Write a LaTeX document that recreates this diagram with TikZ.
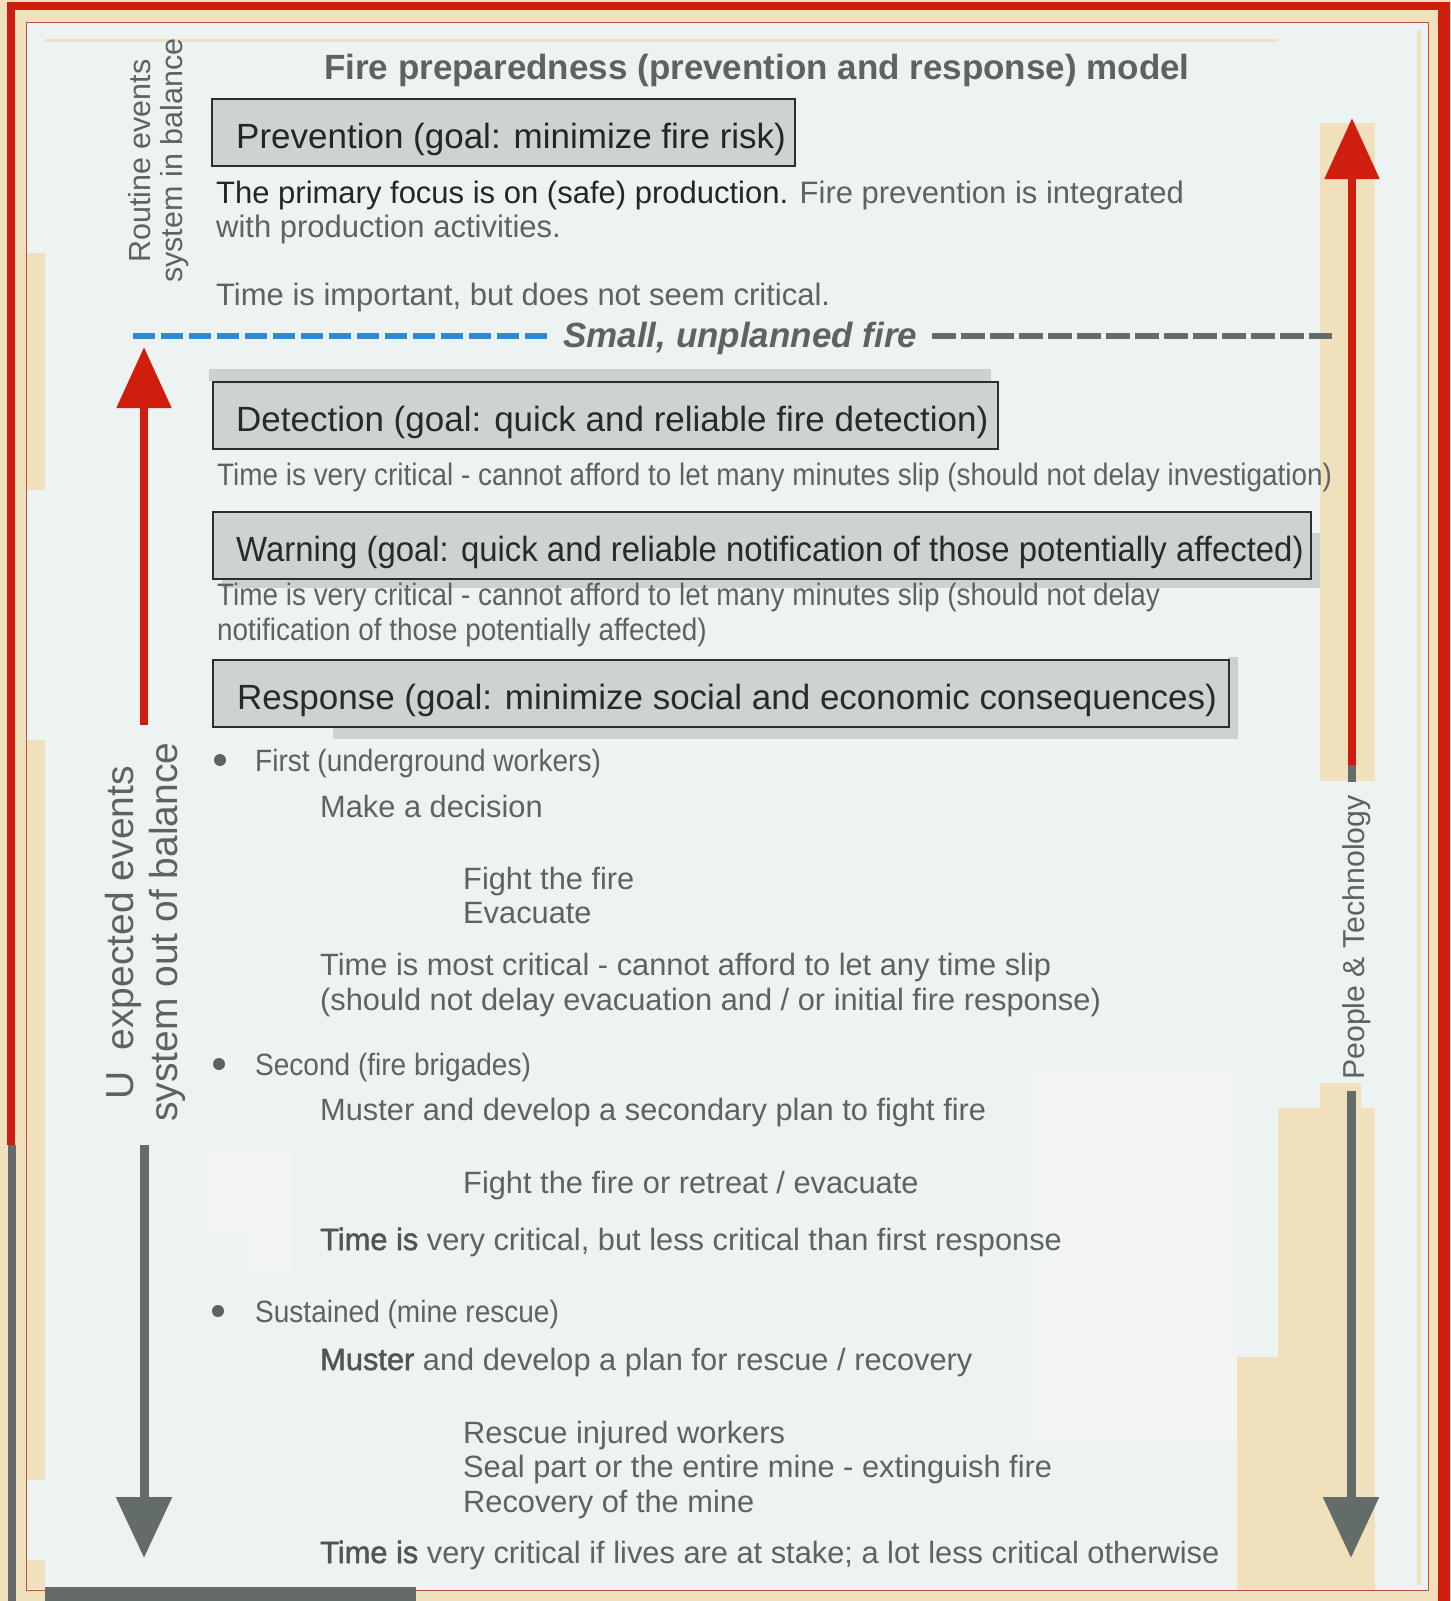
\documentclass[tikz,border=0pt]{standalone}
\usepackage{fontspec}
\setmainfont{Liberation Sans}
\newfontfamily\heavyfont[FakeBold=1.6]{Liberation Sans}
\newfontfamily\condfont[FakeStretch=0.91]{Liberation Sans}
\newfontfamily\subfont[FakeStretch=0.9]{Liberation Sans}
\newfontfamily\warnfont[FakeStretch=0.94]{Liberation Sans}
\usetikzlibrary{arrows.meta}
\definecolor{cream}{HTML}{F0E0BC}
\definecolor{arrred}{HTML}{CF1D0E}
\definecolor{thinred}{HTML}{B8533F}
\definecolor{innerbg}{HTML}{EDF2F3}
\definecolor{whitish}{HTML}{F2F4F4}
\definecolor{txtgray}{HTML}{5B6363}
\definecolor{txtheavy}{HTML}{4E5656}
\definecolor{txtdark}{HTML}{222626}
\definecolor{arrgray}{HTML}{636B6B}
\definecolor{boxfill}{HTML}{CDD3D3}
\definecolor{boxshadow}{HTML}{CBD2D2}
\definecolor{boxline}{HTML}{2C2E2E}
\definecolor{boxtext}{HTML}{262A2A}
\definecolor{dashblue}{HTML}{2E8BD3}
\begin{document}
\begin{tikzpicture}[x=1pt,y=-1pt,
  tx/.style={anchor=base west, inner sep=0pt, text=txtgray, font=\fontsize{30.8}{37}\selectfont},
  headtx/.style={anchor=base west, inner sep=0pt, text=txtgray, font=\condfont\fontsize{30.8}{37}\selectfont},
  subtx/.style={anchor=base west, inner sep=0pt, text=txtgray, font=\subfont\fontsize{31}{37}\selectfont},
  bodytx/.style={anchor=base west, inner sep=0pt, text=txtgray, font=\fontsize{31}{37}\selectfont},
  boxshape/.style={draw=boxline, line width=2.2pt, fill=boxfill, anchor=north west, inner sep=0pt},
  boxtxt/.style={anchor=base west, inner sep=0pt, text=boxtext, font=\fontsize{35}{42}\selectfont},
  vtx/.style={anchor=base west, inner sep=0pt, rotate=90, text=txtgray},
  bulletdot/.style={circle, fill=txtgray, minimum size=12pt, inner sep=0pt},
  redarr/.style={draw=arrred, line width=8.5pt, -{Triangle[length=61pt,width=53pt]}},
  grayarr/.style={draw=arrgray, line width=9pt, -{Triangle[length=61pt,width=54pt]}},
  bluedash/.style={draw=dashblue, line width=6pt, dash pattern=on 22pt off 6pt},
  graydash/.style={draw=arrgray, line width=6.5pt, dash pattern=on 24pt off 5pt}
]
\useasboundingbox (0,0) rectangle (1451,1601);
% ---------- background and frame ----------
\fill[cream] (0,0) rectangle (1451,1601);
\fill[arrred] (7,2) rectangle (1450,10);
\fill[arrred] (7,2) rectangle (15,1145);
\fill[arrgray] (8,1145) rectangle (16,1601);
\fill[arrred] (1438,2) rectangle (1450,1601);
\fill[innerbg] (26,22) rectangle (1428,1590);
\draw[thinred, line width=1pt] (26,22) rectangle (1428,1590);
\fill[cream] (27,253) rectangle (45,490);
\fill[cream] (27,740) rectangle (45,1480);
\fill[cream] (27,1560) rectangle (45,1589);
\fill[cream] (45,39) rectangle (1278,41.5);
\fill[cream] (1320,123) rectangle (1375,781);
\fill[cream] (1320,1083) rectangle (1361,1108);
\fill[cream] (1278,1108) rectangle (1375,1357);
\fill[cream] (1237,1357) rectangle (1375,1590);
\fill[cream] (1417,30) rectangle (1421,1585);
\fill[whitish] (1030,1070) rectangle (1237,1440);
\fill[whitish] (209,1150) rectangle (292,1233);
\fill[whitish] (250,1233) rectangle (292,1273);
\fill[arrgray] (45,1587) rectangle (416,1601);
% ---------- title ----------
\node[anchor=base west, inner sep=0pt, text=txtgray, font=\fontsize{35}{42}\selectfont\bfseries] (title) at (324,79) {Fire preparedness (prevention and response) model};
% ---------- side labels ----------
\node[vtx, font=\fontsize{30.5}{36}\selectfont] (routine) at (150,263) {Routine events};
\node[vtx, font=\fontsize{30.5}{36}\selectfont] (balance) at (182,283) {system in balance};
\node[vtx, font=\fontsize{39}{46}\selectfont] (unexp) at (133,1100) {U\hspace{0.55em}expected events};
\node[vtx, font=\fontsize{39}{46}\selectfont] (outbal) at (177,1122) {system out of balance};
\node[vtx, font=\fontsize{30.3}{36}\selectfont] (people) at (1364,1080) {People \& Technology};
% ---------- arrows ----------
\coordinate (lrS) at (144,725);  \coordinate (lrE) at (144,347);
\coordinate (lgS) at (144,1145); \coordinate (lgE) at (144,1558);
\coordinate (rrS) at (1352,765); \coordinate (rrE) at (1352,118);
\coordinate (rgS) at (1351,1091);\coordinate (rgE) at (1351,1558);
\coordinate (rbitS) at (1352,765); \coordinate (rbitE) at (1352,782);
\draw[redarr] (lrS) -- (lrE);
\draw[grayarr] (lgS) -- (lgE);
\draw[redarr] (rrS) -- (rrE);
\draw[arrgray, line width=8.5pt] (rbitS) -- (rbitE);
\draw[grayarr] (rgS) -- (rgE);
% ---------- prevention ----------
\node[boxshape, minimum width=583pt, minimum height=67pt] (prevbox) at (211,98) {};
\node[boxtxt, text=txtdark] (prevtxt) at (236,148) {Prevention (goal: minimize fire risk)};
\node[bodytx] (prev1) at (216,203) {\textcolor{txtdark}{The primary focus is on (safe) production.} Fire prevention is integrated};
\node[bodytx] (prev2) at (216,237) {with production activities.};
\node[bodytx] (prev3) at (216,305) {Time is important, but does not seem critical.};
% ---------- small unplanned fire ----------
\node[anchor=base west, inner sep=0pt, text=txtgray, font=\fontsize{35}{42}\selectfont\bfseries\itshape] (fire) at (563,347) {Small, unplanned fire};
\coordinate (dbS) at (133,336); \coordinate (dbE) at (551,336);
\coordinate (dgS) at (932,336); \coordinate (dgE) at (1332,336);
\draw[bluedash] (dbS) -- (dbE);
\draw[graydash] (dgS) -- (dgE);
% ---------- detection ----------
\fill[boxshadow] (209,369) rectangle (991,381);
\node[boxshape, minimum width=785pt, minimum height=67pt] (detbox) at (212,381) {};
\node[boxtxt] (dettxt) at (236,431) {Detection (goal: quick and reliable fire detection)};
\node[subtx] (detsub) at (217,485) {Time is very critical - cannot afford to let many minutes slip (should not delay investigation)};
% ---------- warning ----------
\fill[boxshadow] (222,578) rectangle (1320,588);
\fill[boxshadow] (1310,533) rectangle (1320,588);
\node[boxshape, minimum width=1098pt, minimum height=67pt] (warnbox) at (212,511) {};
\node[boxtxt, font=\warnfont\fontsize{35}{42}\selectfont] (warntxt) at (236,561) {Warning (goal: quick and reliable notification of those potentially affected)};
\node[subtx] (warnsub1) at (217,605) {Time is very critical - cannot afford to let many minutes slip (should not delay};
\node[subtx] (warnsub2) at (217,640) {notification of those potentially affected)};
% ---------- response ----------
\fill[boxshadow] (333,727) rectangle (1238,739);
\fill[boxshadow] (1228,657) rectangle (1238,739);
\node[boxshape, minimum width=1016pt, minimum height=67pt] (respbox) at (212,659) {};
\node[boxtxt] (resptxt) at (237,709) {Response (goal: minimize social and economic consequences)};
% ---------- response details ----------
\node[bulletdot] (b1) at (220,760) {};
\node[headtx] (first) at (255,771) {First (underground workers)};
\node[tx] (decide) at (320,817) {Make a decision};
\node[tx] (fight1) at (463,889) {Fight the fire};
\node[tx] (evac1) at (463,923) {Evacuate};
\node[tx] (crit1a) at (320,975) {Time is most critical - cannot afford to let any time slip};
\node[tx] (crit1b) at (320,1010) {(should not delay evacuation and / or initial fire response)};
\node[bulletdot] (b2) at (219,1064) {};
\node[headtx] (second) at (255,1075) {Second (fire brigades)};
\node[tx] (muster1) at (320,1120) {Muster and develop a secondary plan to fight fire};
\node[tx] (fight2) at (463,1193) {Fight the fire or retreat / evacuate};
\node[tx] (crit2) at (320,1250) {{\heavyfont\color{txtheavy}Time is} very critical, but less critical than first response};
\node[bulletdot] (b3) at (218,1311) {};
\node[headtx] (sustained) at (255,1322) {Sustained (mine rescue)};
\node[tx] (muster2) at (320,1370) {{\heavyfont\color{txtheavy}Muster} and develop a plan for rescue / recovery};
\node[tx] (rescue) at (463,1443) {Rescue injured workers};
\node[tx] (seal) at (463,1477) {Seal part or the entire mine - extinguish fire};
\node[tx] (recover) at (463,1512) {Recovery of the mine};
\node[tx] (crit3) at (320,1563) {{\heavyfont\color{txtheavy}Time is} very critical if lives are at stake; a lot less critical otherwise};
\end{tikzpicture}
\end{document}
